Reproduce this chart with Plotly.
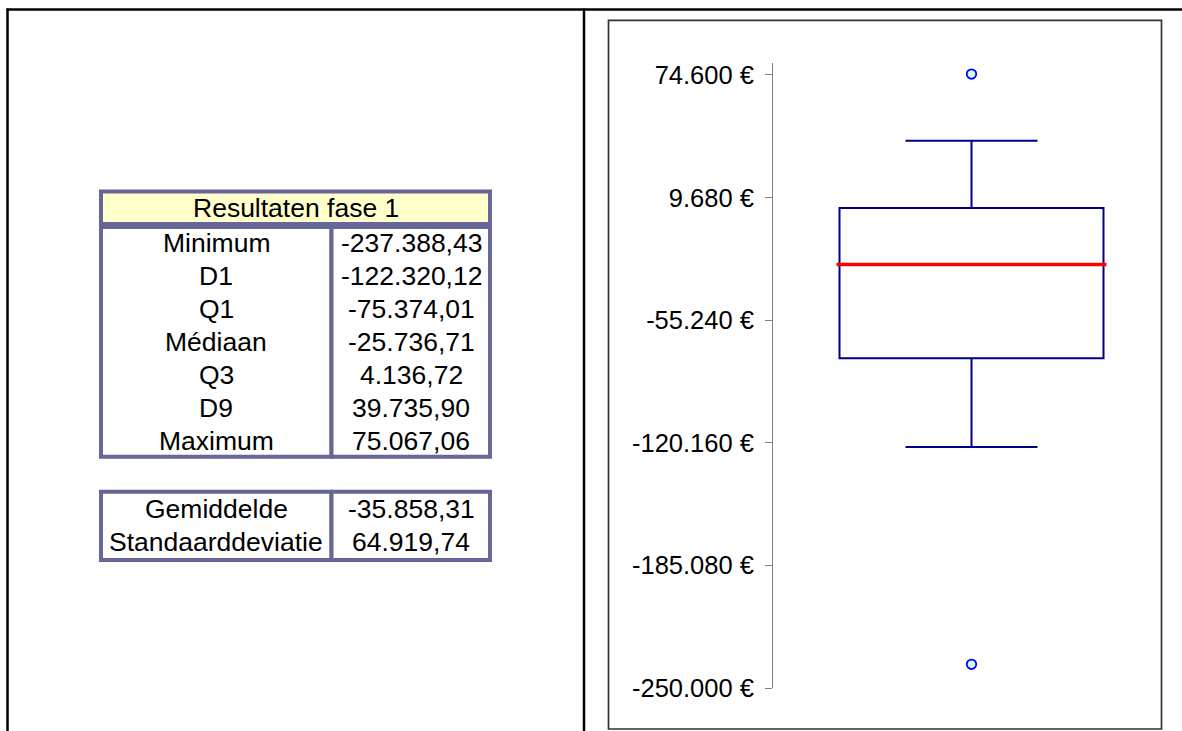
import plotly.graph_objects as go

# ---------------- data ----------------
STAT_LABELS = ["Minimum", "D1", "Q1", "Médiaan", "Q3", "D9", "Maximum"]
STAT_VALUES = [-237388.43, -122320.12, -75374.01, -25736.71, 4136.72, 39735.90, 75067.06]
SUMMARY_LABELS = ["Gemiddelde", "Standaarddeviatie"]
SUMMARY_VALUES = [-35858.31, 64919.74]
TABLE_TITLE = "Resultaten fase 1"
Y_TICKS = [-250000, -185080, -120160, -55240, 9680, 74600]
Y_TICK_LABELS = ["-250.000 €", "-185.080 €", "-120.160 €", "-55.240 €", "9.680 €", "74.600 €"]
Y_RANGE = [-250000, 81000]

W, H = 1182, 731          # reference picture size (layout reference frame)
FIG_H = 745               # css height so that the photographed page fills 731 px
FONT = "Liberation Sans, Arial, sans-serif"
BORDER = "#666699"


def px(x):
    return x / W


def py(y):
    return (H - y) / H


def fmt_nl(v):
    s = f"{abs(v):,.2f}".replace(",", "X").replace(".", ",").replace("X", ".")
    return ("-" if v < 0 else "") + s


stats = dict(zip(STAT_LABELS, STAT_VALUES))

fig = go.Figure()

# box (Q1/Q3 box, D1/D9 whiskers)
fig.add_trace(go.Box(
    x=[0], q1=[stats["Q1"]], median=[stats["Médiaan"]], q3=[stats["Q3"]],
    lowerfence=[stats["D1"]], upperfence=[stats["D9"]],
    width=1.33, whiskerwidth=0.5, boxpoints=False,
    fillcolor="rgba(255,255,255,0)", line=dict(color="#000080", width=2),
    hoverinfo="skip", showlegend=False,
))
# red median
fig.add_trace(go.Scatter(
    x=[-0.68, 0.68], y=[stats["Médiaan"]] * 2, mode="lines",
    line=dict(color="#ff0000", width=3.5), hoverinfo="skip", showlegend=False,
))
# min / max as outliers
fig.add_trace(go.Scatter(
    x=[0, 0], y=[stats["Minimum"], stats["Maximum"]], mode="markers",
    marker=dict(symbol="circle", size=9.5, color="#ccffff",
                line=dict(color="#0000ff", width=1.8)),
    hoverinfo="skip", showlegend=False,
))

fig.update_layout(
    width=W, height=FIG_H, autosize=False, margin=dict(l=0, r=0, t=0, b=0),
    paper_bgcolor="white", plot_bgcolor="white",
    font=dict(family=FONT, size=26, color="black"),
    xaxis=dict(domain=[px(773), px(1170)], range=[-1, 1], visible=False, fixedrange=True),
    yaxis=dict(domain=[py(688), py(61)], range=Y_RANGE, tickvals=Y_TICKS,
               ticktext=Y_TICK_LABELS, showgrid=False, zeroline=False,
               showline=True, linecolor="#808080", linewidth=1,
               ticks="outside", ticklen=7, tickcolor="#808080", tickwidth=1,
               ticklabelstandoff=6,
               tickfont=dict(family=FONT, size=25.5, color="black"), fixedrange=True),
)

shapes = []
def line(x0, y0, x1, y1, color="black", width=2.5):
    shapes.append(dict(type="line", xref="paper", yref="paper",
                       x0=px(x0), y0=py(y0), x1=px(x1), y1=py(y1),
                       line=dict(color=color, width=width)))

def rect(x0, y0, x1, y1, fill="white", color=BORDER, width=4):
    shapes.append(dict(type="rect", xref="paper", yref="paper", layer="below",
                       x0=px(x0), y0=py(y0), x1=px(x1), y1=py(y1),
                       fillcolor=fill, line=dict(color=color, width=width)))

# page frame
line(6.5, 7.5, W, 7.5)
line(7.5, 6.5, 7.5, H)
line(584, 6.5, 584, H)
# chart frame
rect(608.5, 18.5, 1161.5, 729, fill="rgba(0,0,0,0)", color="#333333", width=1.7)

# table 1
rect(101, 190, 490, 222.5, fill="#ffffcc")
rect(101, 225.5, 331.5, 456)
rect(331.5, 225.5, 490, 456)
# table 2
rect(101, 491, 331.5, 559.5)
rect(331.5, 491, 490, 559.5)

fig.update_layout(shapes=shapes)

ann = []
def text(x, y, s):
    ann.append(dict(xref="paper", yref="paper", x=px(x), y=py(y), text=s,
                    showarrow=False, xanchor="center", yanchor="middle",
                    font=dict(family=FONT, size=26.5, color="black")))

text(296, 207, TABLE_TITLE)
for i, (lab, val) in enumerate(zip(STAT_LABELS, STAT_VALUES)):
    yc = 242 + 33 * i
    text(216, yc, lab)
    text(411, yc, fmt_nl(val))
for i, (lab, val) in enumerate(zip(SUMMARY_LABELS, SUMMARY_VALUES)):
    yc = 508 + 33 * i
    text(216, yc, lab)
    text(411, yc, fmt_nl(val))
fig.update_layout(annotations=ann)

fig.write_html("out.html", config={"displayModeBar": False, "responsive": False},
               post_script="document.body.style.margin='0';")
